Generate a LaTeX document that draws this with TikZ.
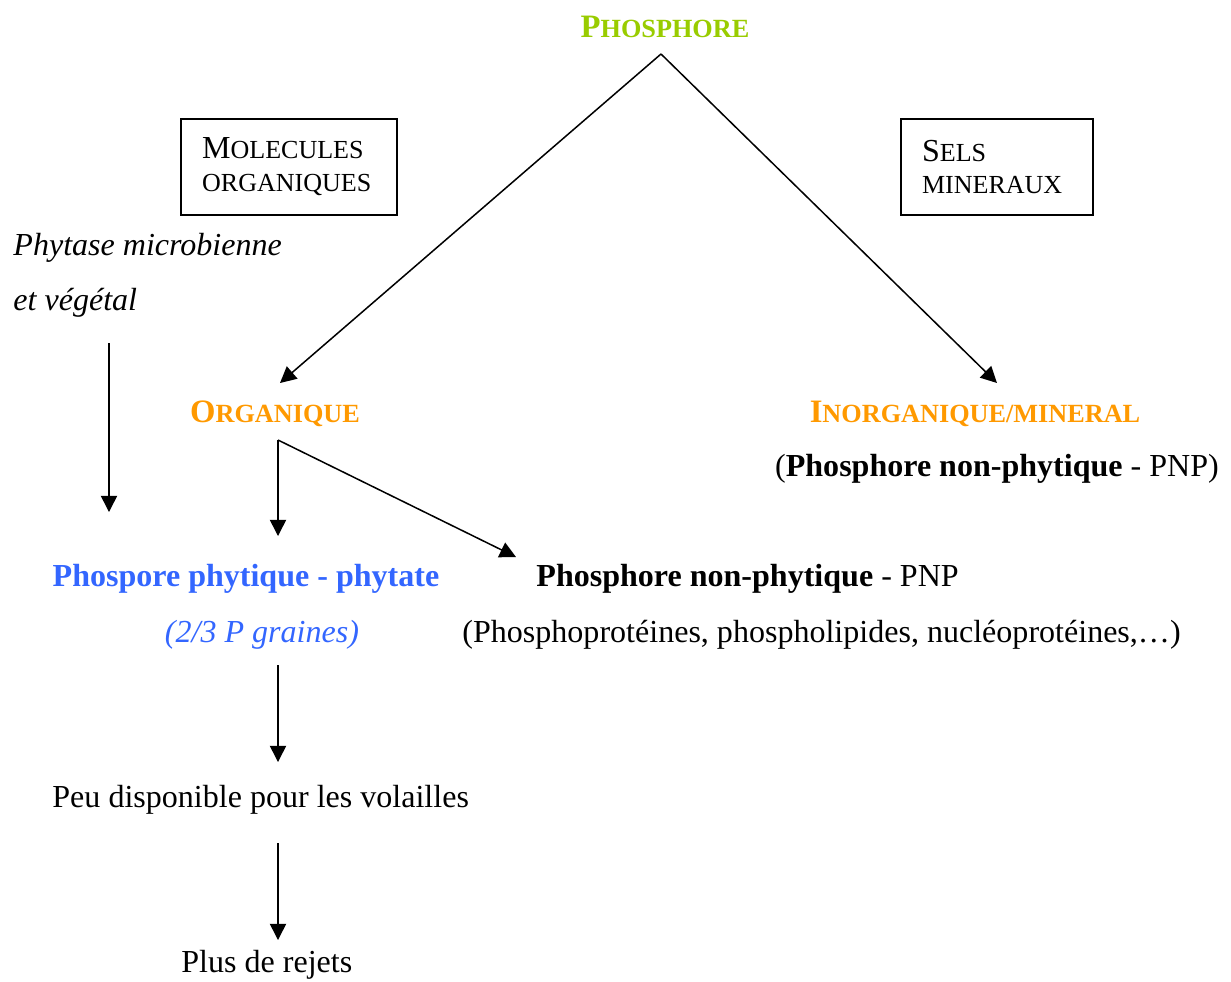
\documentclass[tikz,border=0pt]{standalone}
\usepackage{fontspec}
\setmainfont{Liberation Serif}
\usetikzlibrary{arrows.meta}

\definecolor{vertP}{HTML}{99CC00}
\definecolor{orangeP}{HTML}{FF9900}
\definecolor{bleuP}{HTML}{3366FF}

% petites capitales simulees
\newcommand{\petitA}[1]{{\fontsize{12.2}{14}\selectfont #1}}
\newcommand{\petitB}[1]{{\fontsize{12.1}{14}\selectfont #1}}

\tikzset{
  txt/.style={inner sep=0pt, font=\fontsize{14.9}{17}\selectfont},
  titre/.style={inner sep=0pt, font=\fontsize{15.2}{17}\selectfont\bfseries},
  boite/.style={draw, line width=0.9pt, inner xsep=9.8pt, inner ysep=0pt,
    align=left, font=\fontsize{14.9}{15.3}\selectfont, minimum height=44.6pt},
  fleche/.style={-{Triangle[length=7.5pt,width=7.5pt]}, line width=0.7pt},
}

\begin{document}
\begin{tikzpicture}[x=0.465pt,y=-0.465pt]
	\useasboundingbox (0,0) rectangle (1231,981);
	
	% titre
	\node[titre, text=vertP] (phos) at (665,27) {P\petitA{HOSPHORE}};
	\coordinate (apex) at (661,54);
	\coordinate (finG) at (280,383);
	\coordinate (finD) at (997,383);
	\draw[fleche] (apex) -- (finG);
	\draw[fleche] (apex) -- (finD);
	
	% boites
	\node[boite, text width=80.8pt] (molec) at (289,167)
		{M\petitB{OLECULES}\\\petitB{ORGANIQUES}};
	\node[boite, text width=69.7pt] (sels) at (997,167)
		{S\petitB{ELS}\\\petitB{MINERAUX}};
	
	% phytase
	\node[txt, anchor=west, font=\fontsize{14.9}{17}\selectfont\itshape] (phyt1) at (13,248) {Phytase microbienne};
	\node[txt, anchor=west, font=\fontsize{14.9}{17}\selectfont\itshape] (phyt2) at (13,303) {et végétal};
	\coordinate (phA) at (109,343);
	\coordinate (phB) at (109,512);
	\draw[fleche] (phA) -- (phB);
	
	% branche organique
	\node[titre, text=orangeP] (orga) at (275,414) {O\petitA{RGANIQUE}};
	\coordinate (fork) at (278,440);
	\coordinate (forkA) at (278,536);
	\coordinate (forkB) at (516,557);
	\draw[fleche] (fork) -- (forkA);
	\draw[fleche] (fork) -- (forkB);
	
	% branche inorganique
	\node[titre, text=orangeP] (inorg) at (975,414) {I\petitA{NORGANIQUE/MINERAL}};
	\node[txt] (pnp1) at (997,469) {(\textbf{Phosphore non-phytique} - PNP)};
	
	% phytate
	\node[txt, text=bleuP, font=\fontsize{14.9}{17}\selectfont\bfseries] (phyta) at (246,579) {Phospore phytique - phytate};
	\node[txt, text=bleuP, font=\fontsize{14.9}{17}\selectfont\itshape] (grain) at (262,635) {(2/3 P graines)};
	\node[txt, anchor=west] (pnp2) at (536,579) {\textbf{Phosphore non-phytique} - PNP};
	\node[txt, anchor=west] (prot) at (462,635) {(Phosphoprotéines, phospholipides, nucléoprotéines,…)};
	
	% suite
	\coordinate (s1) at (278,665);
	\coordinate (s2) at (278,762);
	\draw[fleche] (s1) -- (s2);
	\node[txt, anchor=west] (peu) at (52,800) {Peu disponible pour les volailles};
	\coordinate (s3) at (278,843);
	\coordinate (s4) at (278,940);
	\draw[fleche] (s3) -- (s4);
	\node[txt, anchor=west] (rejet) at (181,965) {Plus de rejets};
\end{tikzpicture}
\end{document}
